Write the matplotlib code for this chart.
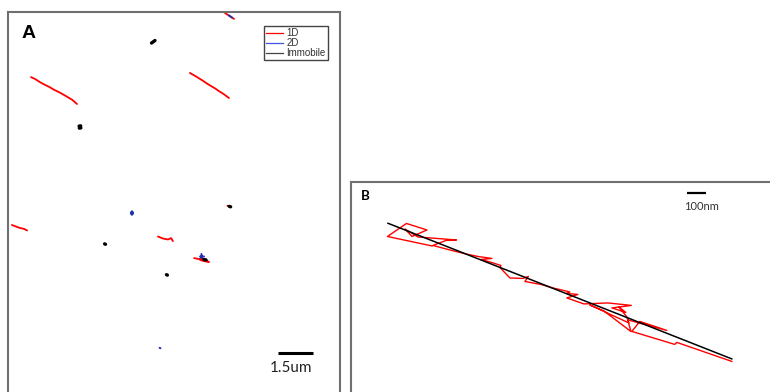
import matplotlib
matplotlib.use("Agg")
import matplotlib.pyplot as plt
from matplotlib.lines import Line2D

# ---- panel A: tracks in um (x to the right, y downwards) ----
a_red1_x = [1.00, 1.19, 1.39, 1.57, 1.78, 2.00, 2.17, 2.39, 2.61, 2.78, 3.00]
a_red1_y = [2.83, 2.92, 3.05, 3.15, 3.25, 3.38, 3.46, 3.58, 3.71, 3.81, 4.00]
a_red2_x = [7.91, 8.17, 8.43, 8.65, 8.83, 9.00, 9.17, 9.35, 9.61]
a_red2_y = [2.65, 2.80, 2.96, 3.11, 3.22, 3.32, 3.44, 3.55, 3.74]
a_red3_x = [9.43, 9.55, 9.70, 9.83]
a_red3_y = [0.04, 0.12, 0.22, 0.30]
a_red4_x = [0.17, 0.35, 0.52, 0.70, 0.83]
a_red4_y = [9.26, 9.33, 9.39, 9.43, 9.50]
a_red5_x = [6.52, 6.74, 6.96, 7.09, 7.17]
a_red5_y = [9.76, 9.85, 9.89, 9.83, 9.96]
a_red6_x = [8.09, 8.30, 8.48, 8.61, 8.74, 8.52, 8.35]
a_red6_y = [10.70, 10.74, 10.72, 10.80, 10.87, 10.83, 10.78]
a_red7_x = [9.54, 9.60]
a_red7_y = [8.42, 8.45]

a_blue1_x = [9.61, 9.74]
a_blue1_y = [0.15, 0.24]
a_blue2_x = [5.35, 5.43, 5.39, 5.39, 5.34, 5.44]
a_blue2_y = [8.70, 8.78, 8.66, 8.82, 8.76, 8.72]
a_blue3_x = [8.41, 8.43, 8.35, 8.52]
a_blue3_y = [10.52, 10.70, 10.63, 10.63]
a_blue4_x = [6.59, 6.63]
a_blue4_y = [14.60, 14.62]

a_blk1_x = [6.24, 6.39]
a_blk1_y = [1.35, 1.24]
a_blk2_x = [3.09, 3.17, 3.10, 3.16, 3.13]
a_blk2_y = [4.96, 5.04, 5.05, 4.95, 5.00]
a_blk3_x = [4.20, 4.24]
a_blk3_y = [10.08, 10.10]
a_blk4_x = [8.52, 8.61]
a_blk4_y = [10.76, 10.78]
a_blk5_x = [9.62, 9.68]
a_blk5_y = [8.45, 8.47]
a_blk6_x = [6.89, 6.93]
a_blk6_y = [11.42, 11.44]

a_bar_len = 1.5  # um

# ---- panel B: one 1D track in nm, with its fitted line ----
b_red_x = [426.1, 192.0, 291.9, 399.8, 320.9, 284.0, 352.4, 554.9, 499.7, 431.3,
           520.7, 604.9, 668.0, 741.7, 683.8, 731.1, 789.0, 783.7, 836.3, 904.7,
           933.7, 915.2, 999.4, 1062.5, 1151.9, 1133.5, 1194.0, 1136.2, 1225.6, 1351.8,
           1475.4, 1372.9, 1446.5, 1409.7, 1451.8, 1462.3, 1257.1, 1330.8, 1472.8, 1457.0,
           1662.2, 1520.1, 1478.1, 1704.2, 1714.8, 2004.1]
b_red_y = [336.6, 286.7, 218.3, 252.5, 286.7, 247.2, 289.3, 305.1, 307.7, 334.0,
           357.7, 378.7, 391.9, 402.4, 407.7, 420.8, 439.2, 449.7, 505.0, 507.6,
           497.1, 523.4, 539.2, 557.6, 578.6, 586.5, 591.8, 610.2, 641.7, 636.5,
           649.6, 662.8, 686.4, 657.5, 710.1, 741.7, 647.0, 678.5, 786.4, 725.9,
           781.1, 733.8, 786.4, 854.8, 844.2, 944.2]
b_fit_x = [194.6, 2004.1]
b_fit_y = [217.2, 931.0]

b_bar_len = 100  # nm

RED = "#ff0000"
BLUE = "#1f33b0"
FRAME = "#707070"

W, H, DPI = 770, 392, 100
fig = plt.figure(figsize=(W / DPI, H / DPI), dpi=DPI)


def px_axes(left, top, width, height):
    # axes placed in pixel units of the figure (may run past the edge)
    return fig.add_axes([left / W, 1 - (top + height) / H, width / W, height / H])


def frame(ax):
    ax.set_xticks([])
    ax.set_yticks([])
    for s in ax.spines.values():
        s.set_color(FRAME)
        s.set_linewidth(1.5)


# panel A, 23 px per um
axA = px_axes(8, 12, 332, 400)
axA.set_xlim(0, 332 / 23)
axA.set_ylim(400 / 23, 0)
frame(axA)

for xs, ys in [(a_red1_x, a_red1_y), (a_red2_x, a_red2_y), (a_red3_x, a_red3_y),
               (a_red4_x, a_red4_y), (a_red5_x, a_red5_y), (a_red6_x, a_red6_y),
               (a_red7_x, a_red7_y)]:
    axA.plot(xs, ys, color=RED, lw=1.3, solid_capstyle="round",
             solid_joinstyle="round")
for xs, ys in [(a_blue1_x, a_blue1_y), (a_blue2_x, a_blue2_y),
               (a_blue3_x, a_blue3_y), (a_blue4_x, a_blue4_y)]:
    axA.plot(xs, ys, color=BLUE, lw=1.4, solid_capstyle="round")
for xs, ys in [(a_blk1_x, a_blk1_y), (a_blk2_x, a_blk2_y), (a_blk3_x, a_blk3_y),
               (a_blk4_x, a_blk4_y), (a_blk5_x, a_blk5_y), (a_blk6_x, a_blk6_y)]:
    axA.plot(xs, ys, color="black", lw=2.4, solid_capstyle="round")

# scale bar A
bx0 = 11.74
axA.plot([bx0, bx0 + a_bar_len], [14.83, 14.83], color="black", lw=2.2,
         solid_capstyle="butt")
axA.text(bx0 + a_bar_len, 15.48, "%.1fum" % a_bar_len, ha="right", va="center",
         fontsize=11, family="Lato", color="#222222")

axA.annotate("A", xy=(0, 1), xycoords="axes fraction", xytext=(10, -9.5),
             textcoords="offset points", ha="left", va="top", fontsize=14,
             fontweight="bold", family="Liberation Sans")

handles = [Line2D([], [], color=RED, lw=0.9),
           Line2D([], [], color="#3f55e0", lw=0.9),
           Line2D([], [], color="#444444", lw=0.9)]
leg = axA.legend(handles, ["1D", "2D", "Immobile"], loc="upper right",
                 bbox_to_anchor=(328 / W, 1 - 25.5 / H), bbox_transform=fig.transFigure,
                 prop={"family": "Liberation Sans", "size": 7.0}, fancybox=False,
                 framealpha=1, edgecolor="#444444", handlelength=1.7,
                 handletextpad=0.35, labelspacing=0.0, borderpad=0.25,
                 borderaxespad=0)
leg.get_frame().set_linewidth(1.0)
for t in leg.get_texts():
    t.set_color("#333333")

# panel B, 100 nm = 19 px
NM = 100 / 19
axB = px_axes(351, 182, 430, 220)
axB.set_xlim(0, 430 * NM)
axB.set_ylim(220 * NM, 0)
frame(axB)

axB.plot(b_red_x, b_red_y, color=RED, lw=1.0)
axB.plot(b_fit_x, b_fit_y, color="black", lw=1.1)

# scale bar B
cx = 1771
axB.plot([cx, cx + b_bar_len], [56, 56], color="black", lw=1.6, solid_capstyle="butt")
axB.text(cx + b_bar_len / 2 + 22, 130, "%dnm" % b_bar_len, ha="center", va="center",
         fontsize=8, family="Lato", color="#333333")

axB.annotate("B", xy=(0, 1), xycoords="axes fraction", xytext=(7, -6),
             textcoords="offset points", ha="left", va="top", fontsize=9.5,
             fontweight="bold", family="Lato")

fig.savefig("out.png", dpi=DPI)
